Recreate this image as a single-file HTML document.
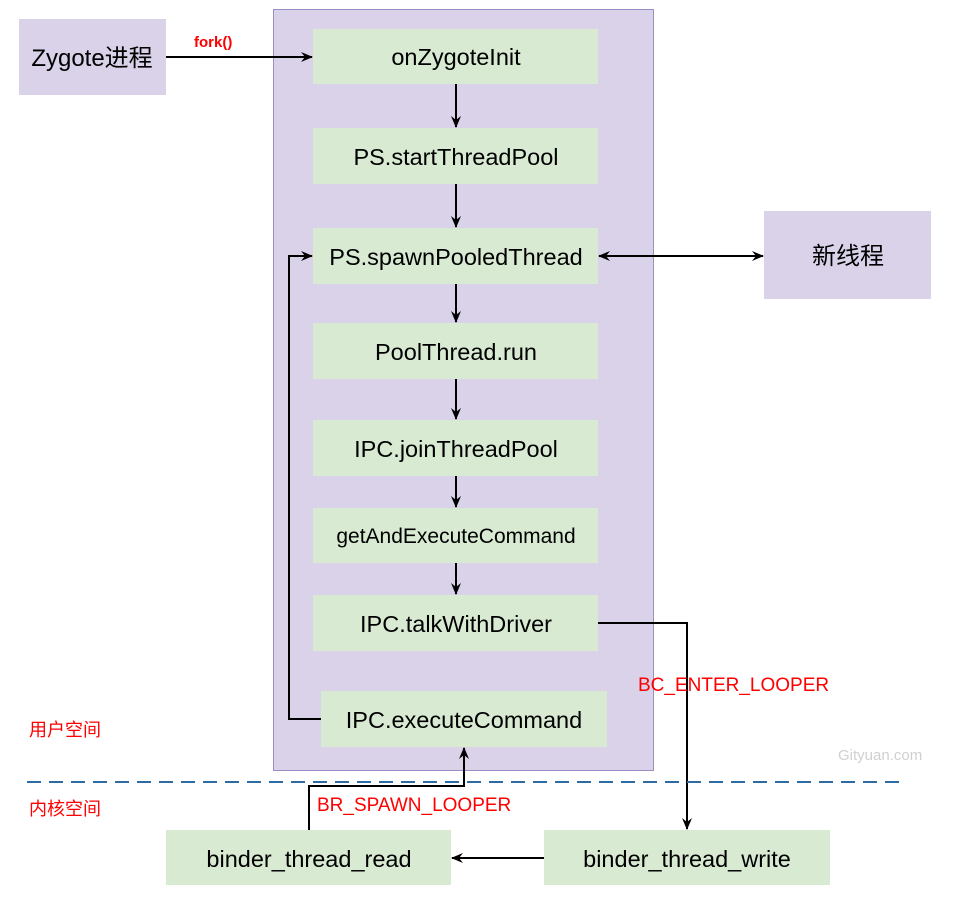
<!DOCTYPE html>
<html><head><style>body{margin:0;background:#fff}</style></head><body>
<svg width="972" height="895" xmlns="http://www.w3.org/2000/svg" font-family="Liberation Sans, Noto Sans CJK SC, sans-serif">
<defs><marker id="a" markerWidth="12" markerHeight="12" refX="11" refY="6" orient="auto" markerUnits="userSpaceOnUse"><path d="M0,1 L12,6 L0,11 L4,6z" fill="#000"/></marker>
<marker id="b" markerWidth="12" markerHeight="12" refX="1" refY="6" orient="auto" markerUnits="userSpaceOnUse"><path d="M12,1 L0,6 L12,11 L8,6z" fill="#000"/></marker></defs>
<rect x="19" y="19" width="147" height="76" fill="#d9d2e9"/>
<text x="92" y="66" font-size="24" text-anchor="middle">Zygote进程</text>
<rect x="273.5" y="9.5" width="380" height="761" fill="#d9d2e9" stroke="#9a8fc4"/>
<rect x="764" y="211" width="167" height="88" fill="#d9d2e9"/>
<text x="848" y="264" font-size="24" text-anchor="middle">新线程</text>
<g fill="#d9ead3">
<rect x="313" y="29" width="285" height="55"/><rect x="313" y="128" width="285" height="56"/>
<rect x="313" y="228" width="285" height="56"/><rect x="313" y="323" width="285" height="56"/>
<rect x="313" y="420" width="285" height="56"/><rect x="313" y="508" width="285" height="55"/>
<rect x="313" y="595" width="285" height="56"/><rect x="321" y="691" width="286" height="56"/>
<rect x="166" y="830" width="285" height="55"/><rect x="544" y="830" width="286" height="55"/>
</g>
<g font-size="23.5" text-anchor="middle">
<text x="456" y="65">onZygoteInit</text>
<text x="456" y="165">PS.startThreadPool</text>
<text x="456" y="265">PS.spawnPooledThread</text>
<text x="456" y="360">PoolThread.run</text>
<text x="456" y="457">IPC.joinThreadPool</text>
<text x="456" y="543" font-size="21">getAndExecuteCommand</text>
<text x="456" y="632">IPC.talkWithDriver</text>
<text x="464" y="728">IPC.executeCommand</text>
<text x="309" y="867">binder_thread_read</text>
<text x="687" y="867">binder_thread_write</text>
</g>
<g stroke="#000" stroke-width="2" fill="none">
<line x1="166" y1="57" x2="312" y2="57" marker-end="url(#a)"/>
<line x1="456" y1="84" x2="456" y2="127" marker-end="url(#a)"/>
<line x1="456" y1="184" x2="456" y2="227" marker-end="url(#a)"/>
<line x1="456" y1="284" x2="456" y2="322" marker-end="url(#a)"/>
<line x1="456" y1="379" x2="456" y2="419" marker-end="url(#a)"/>
<line x1="456" y1="476" x2="456" y2="507" marker-end="url(#a)"/>
<line x1="456" y1="563" x2="456" y2="594" marker-end="url(#a)"/>
<line x1="599" y1="256" x2="763" y2="256" marker-start="url(#b)" marker-end="url(#a)"/>
<polyline points="321,719 289,719 289,256 312,256" marker-end="url(#a)"/>
<polyline points="598,623 687,623 687,829" marker-end="url(#a)"/>
<line x1="544" y1="858" x2="452" y2="858" marker-end="url(#a)"/>
<polyline points="309,830 309,786 464,786 464,748" marker-end="url(#a)"/>
</g>
<line x1="27" y1="782" x2="900" y2="782" stroke="#2e6da4" stroke-width="2" stroke-dasharray="14,8"/>
<g fill="#f00" font-size="19">
<text x="194" y="47" font-weight="bold" font-size="15">fork()</text>
<text x="638" y="691">BC_ENTER_LOOPER</text>
<text x="317" y="811">BR_SPAWN_LOOPER</text>
<text x="29" y="736" font-size="18">用户空间</text>
<text x="29" y="815" font-size="18">内核空间</text>
</g>
<text x="838" y="760" font-size="15" fill="#d0d0d0">Gityuan.com</text>
</svg>
</body></html>
